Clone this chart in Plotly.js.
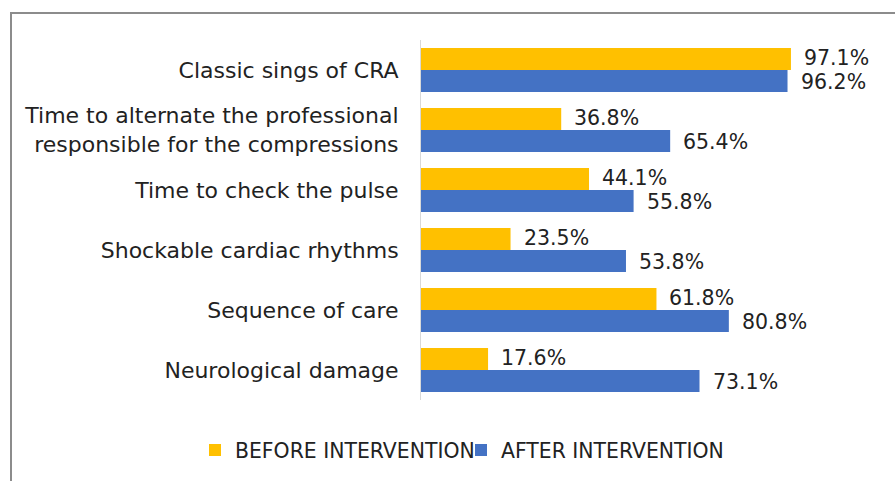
<!DOCTYPE html>
<html>
<head>
<meta charset="utf-8">
<script src="https://cdn.plot.ly/plotly-3.0.1.min.js"></script>
<style>
  html, body { margin: 0; padding: 0; background: #ffffff; }
  #wrap { position: relative; width: 895px; height: 481px; overflow: hidden; }
  #chart { position: absolute; left: 0; top: 0; width: 895px; height: 481px; }
  #frame { position: absolute; left: 10px; top: 12px; width: 900px; height: 480px;
           border-top: 2px solid #8c8c8c; border-left: 2px solid #8c8c8c; pointer-events: none; }
</style>
</head>
<body>
<div id="wrap">
  <div id="chart"></div>
  <div id="frame"></div>
</div>
<script>
// ---- data ----
const categories = [
  "Classic sings of CRA",
  "Time to alternate the professional<br>responsible for the compressions",
  "Time to check the pulse",
  "Shockable cardiac rhythms",
  "Sequence of care",
  "Neurological damage"
];
const beforeValues = [97.1, 36.8, 44.1, 23.5, 61.8, 17.6];
const afterValues  = [96.2, 65.4, 55.8, 53.8, 80.8, 73.1];
const seriesNames = ["BEFORE INTERVENTION", "AFTER INTERVENTION"];
const seriesColors = ["#FFC000", "#4472C4"];

const FONT = "'DejaVu Sans', sans-serif";
const TXT = "#222222";

const traces = [beforeValues, afterValues].map((vals, i) => ({
  type: "bar",
  orientation: "h",
  name: seriesNames[i],
  x: vals,
  y: categories,
  marker: { color: seriesColors[i] },
  legend: i === 0 ? "legend" : "legend2",
  hoverinfo: "x+y"
}));

// value labels placed next to bar ends
const labelShift = [-1, 1];
const annotations = [];
[beforeValues, afterValues].forEach((vals, i) => {
  vals.forEach((v, j) => {
    annotations.push({
      x: v, y: categories[j], xref: "x", yref: "y",
      text: v.toFixed(1) + "%",
      showarrow: false, xanchor: "left", yanchor: "middle",
      xshift: 11, yshift: -labelShift[i] * 12,
      font: { family: FONT, size: 20.5, color: TXT }
    });
  });
});

const legendBase = {
  orientation: "h", xref: "container", yref: "container",
  xanchor: "left", y: 0.064, yanchor: "middle",
  font: { family: FONT, size: 20.4, color: TXT },
  itemwidth: 30, bgcolor: "rgba(0,0,0,0)"
};

const layout = {
  width: 895, height: 481,
  margin: { l: 421, r: 93, t: 40, b: 81 },
  paper_bgcolor: "#ffffff", plot_bgcolor: "#ffffff",
  barmode: "group",
  bargap: 0.27,
  bargroupgap: 0,
  font: { family: FONT, size: 20, color: TXT },
  xaxis: {
    range: [0, 100], showgrid: false, zeroline: false, showline: false,
    showticklabels: false, ticks: "", fixedrange: true
  },
  yaxis: {
    autorange: "reversed", type: "category",
    showline: true, linecolor: "#d9d9d9", linewidth: 1,
    showgrid: false, zeroline: false, ticks: "",
    ticklabelstandoff: 17,
    tickfont: { family: FONT, size: 22, color: TXT }
  },
  showlegend: true,
  legend: Object.assign({}, legendBase, { x: 195 / 895 }),
  legend2: Object.assign({}, legendBase, { x: 461 / 895 }),
  annotations: annotations
};

Plotly.newPlot("chart", traces, layout, { displayModeBar: false, staticPlot: true });
</script>
</body>
</html>
